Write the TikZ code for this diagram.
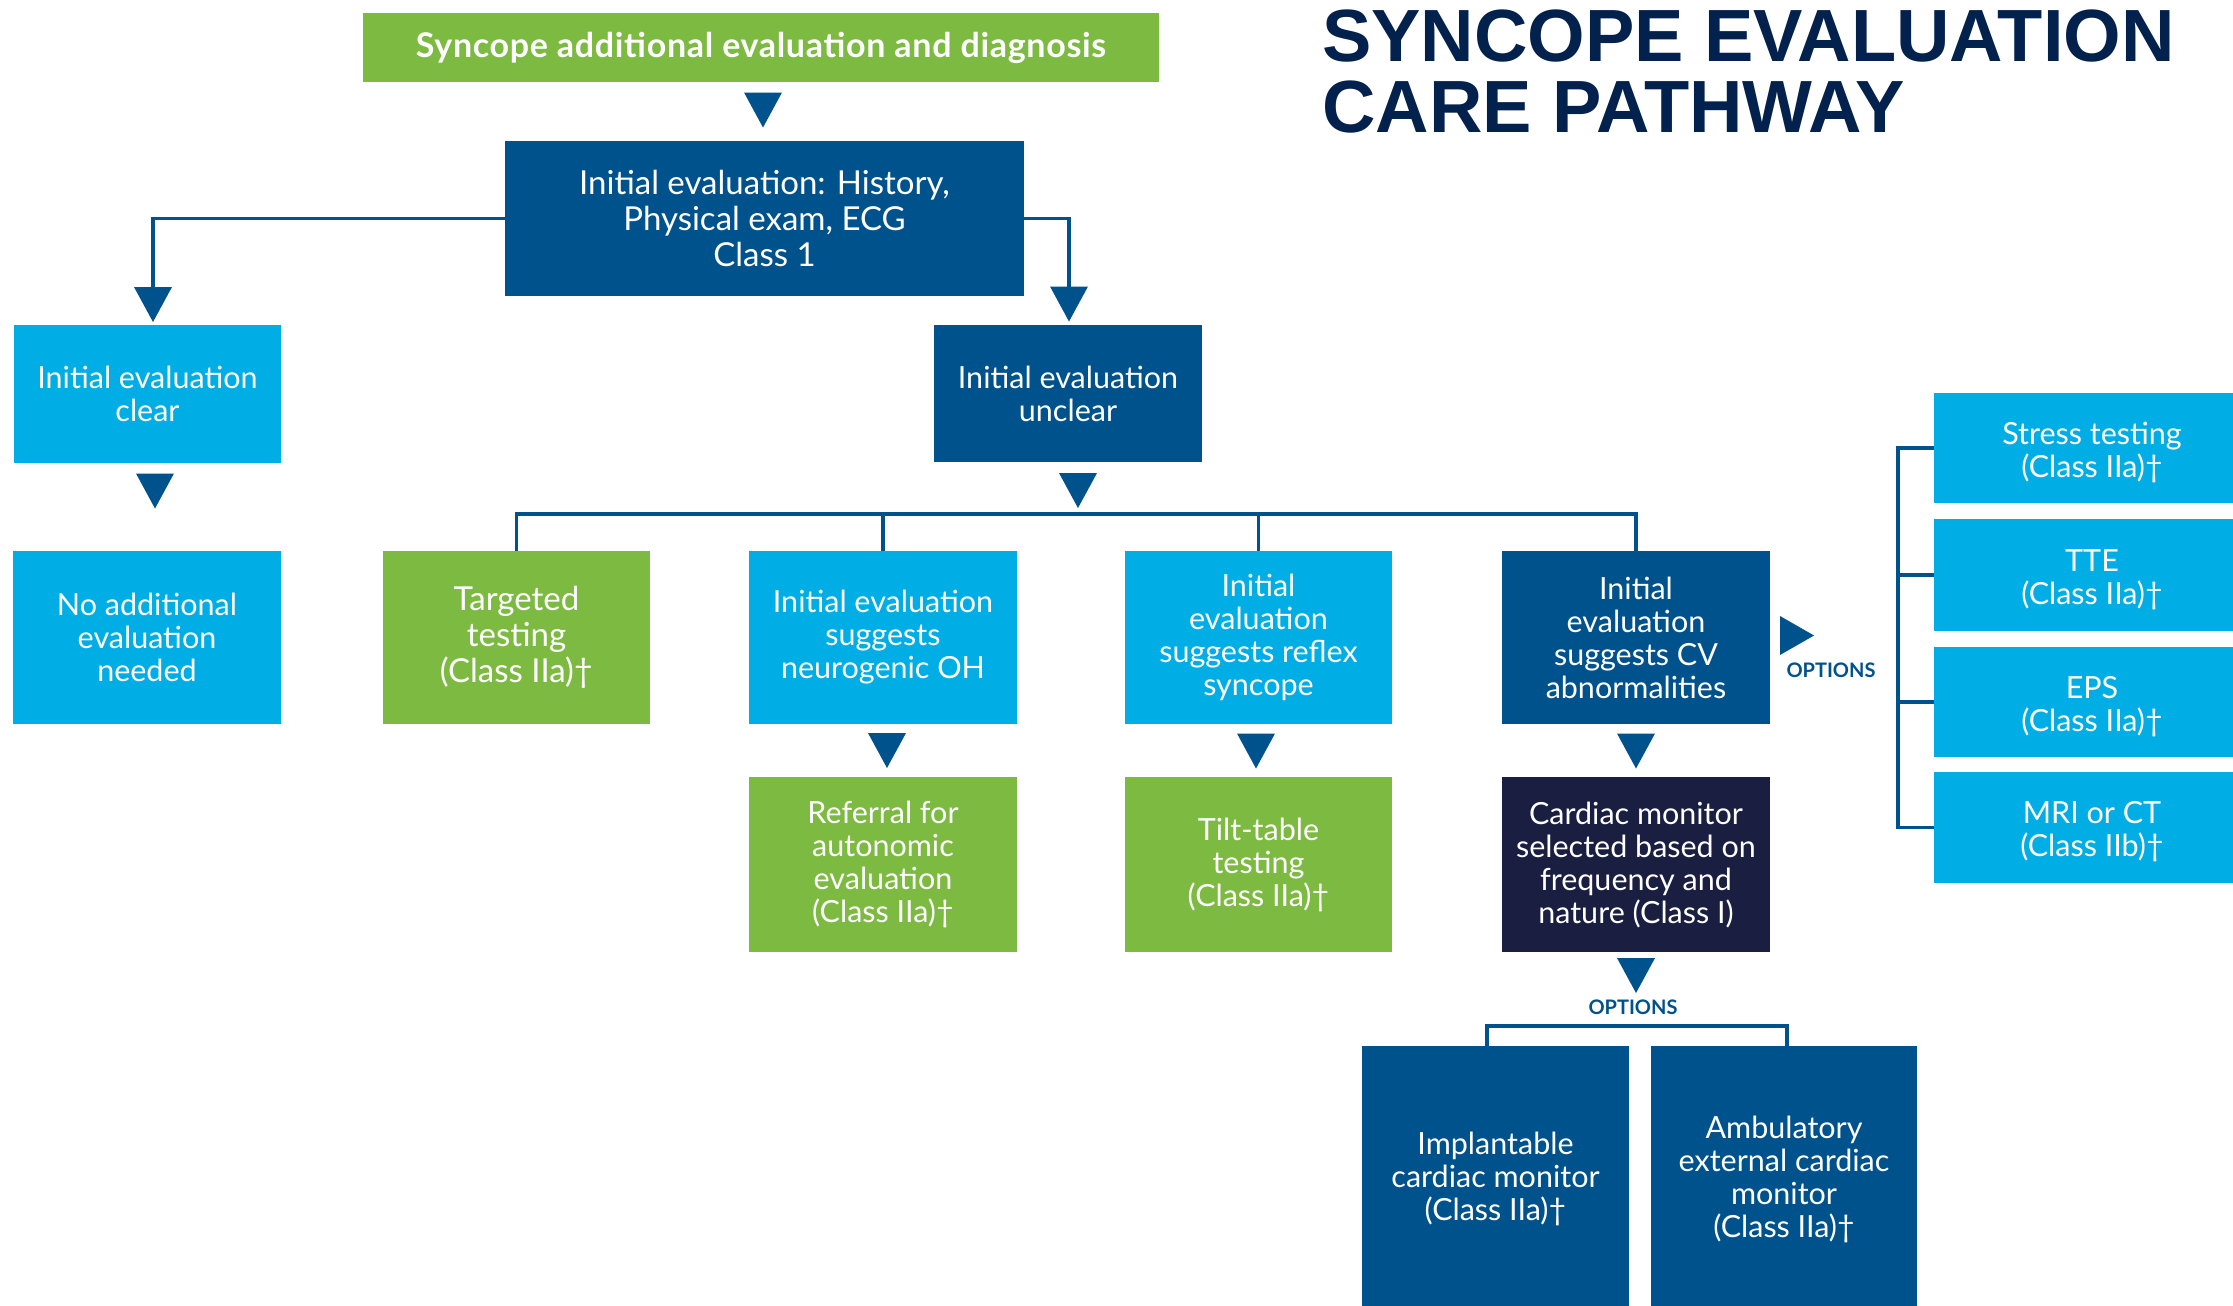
\documentclass[tikz,border=0pt]{standalone}
\usepackage{fontspec}
\setmainfont{Lato}
\newfontfamily\titlefont{Liberation Sans}
\usetikzlibrary{calc}
\definecolor{cgreen}{HTML}{7DBA42}
\definecolor{clight}{HTML}{00AEE5}
\definecolor{cdark}{HTML}{00528C}
\definecolor{cnavy}{HTML}{1A1F42}
\definecolor{ctitle}{HTML}{03214D}
\newcommand{\dropstrut}{\rule{0pt}{31pt}}
\tikzset{
  box/.style={rectangle, inner sep=0pt, align=center, text=white, font=\fontsize{30.5}{33}\selectfont},
  bigtext/.style={font=\fontsize{33}{36}\selectfont},
  sz/.style 2 args={minimum width=#1pt, minimum height=#2pt},
  greenbox/.style={box, fill=cgreen},
  lightbox/.style={box, fill=clight},
  darkbox/.style={box, fill=cdark},
  navybox/.style={box, fill=cnavy},
  conn/.style={draw=cdark, line width=3.5pt},
  downtri/.pic={\fill[cdark] (-19,-17.5) -- (19,-17.5) -- (0,17.5) -- cycle;},
  righttri/.pic={\fill[cdark] (-17,-19.5) -- (-17,19.5) -- (17,0) -- cycle;},
  optlabel/.style={text=cdark, font=\bfseries\fontsize{20}{22}\selectfont, inner sep=0pt},
}
\begin{document}
\begin{tikzpicture}[x=1pt,y=-1pt]
\clip (0,0) rectangle (2233,1306);
\fill[white] (0,0) rectangle (2233,1306);

% title
\node[anchor=north west, inner sep=0pt, align=left, text=ctitle,
      font=\titlefont\bfseries\fontsize{74}{71}\selectfont] (title) at (1322,10)
      {SYNCOPE EVALUATION\\CARE PATHWAY};

% boxes
\node[greenbox, sz={796}{69}, font=\bfseries\fontsize{34}{36}\selectfont\addfontfeatures{LetterSpace=2.0}] (top) at (761,47.5)
  {Syncope additional evaluation and diagnosis};
\node[darkbox, sz={519}{155}, bigtext] (init) at (764.5,218.5)
  {Initial evaluation: History,\\Physical exam, ECG\\Class 1};
\node[lightbox, sz={267}{138}] (clear) at (147.5,394) {Initial evaluation\\clear};
\node[darkbox, sz={268}{137}] (unclear) at (1068,393.5) {Initial evaluation\\unclear};

\node[lightbox, sz={268}{173}] (noadd) at (147,637.5) {No additional\\evaluation\\needed};
\node[greenbox, sz={267}{173}, bigtext] (targeted) at (516.5,637.5) {Targeted\\testing\\(Class IIa)†};
\node[lightbox, sz={268}{173}] (neuro) at (883,637.5) {Initial evaluation\\suggests\\neurogenic OH};
\node[lightbox, sz={267}{173}] (reflex) at (1258.5,637.5) {Initial\\evaluation\\suggests reflex\\syncope};
\node[darkbox, sz={268}{173}] (cv) at (1636,637.5) {Initial\\evaluation\\suggests CV\\abnormalities};

\node[greenbox, sz={268}{175}] (referral) at (883,864.5) {Referral for\\autonomic\\evaluation\\(Class IIa)†};
\node[greenbox, sz={267}{175}] (tilt) at (1258.5,864.5) {Tilt-table\\testing\\(Class IIa)†};
\node[navybox, sz={268}{175}] (cardiac) at (1636,864.5) {Cardiac monitor\\selected based on\\frequency and\\nature (Class I)};

\node[lightbox, sz={316}{110}] (stress) at (2092,448) {\dropstrut Stress testing\\(Class IIa)†};
\node[lightbox, sz={316}{112}] (tte) at (2092,575) {\dropstrut TTE\\(Class IIa)†};
\node[lightbox, sz={316}{110}] (eps) at (2092,702) {\dropstrut EPS\\(Class IIa)†};
\node[lightbox, sz={316}{111}] (mri) at (2092,827.5) {\dropstrut MRI or CT\\(Class IIb)†};

\node[darkbox, sz={267}{266}] (impl) at (1495.5,1179) {Implantable\\cardiac monitor\\(Class IIa)†};
\node[darkbox, sz={266}{266}] (amb) at (1784,1179) {Ambulatory\\external cardiac\\monitor\\(Class IIa)†};

% options labels
\node[optlabel] (opt1) at (1831,670) {OPTIONS};
\node[optlabel] (opt2) at (1633,1007) {OPTIONS};

% arrow-head positions
\coordinate (aTop) at (763,110);
\coordinate (aL) at (153,304.5);
\coordinate (aR) at (1069,304);
\coordinate (aC) at (155,491);
\coordinate (aU) at (1078,490.5);
\coordinate (aN) at (887,750.5);
\coordinate (aRf) at (1256,751);
\coordinate (aCV) at (1636,751);
\coordinate (aRt) at (1797,635.5);
\coordinate (aCard) at (1636,975.5);

% connectors
\draw[conn] (init.west) -| ($(aL)+(0,-16)$);
\draw[conn] (init.east) -| ($(aR)+(0,-16)$);
\draw[conn] (targeted.north) -- ++(0,-37) -| (cv.north);
\draw[conn] (neuro.north) -- ++(0,-37);
\draw[conn] (reflex.north) -- ++(0,-37);
\draw[conn] (stress.west) -- ++(-36,0) |- (mri.west);
\draw[conn] (tte.west) -- ++(-37.75,0);
\draw[conn] (eps.west) -- ++(-37.75,0);
\draw[conn] ($(impl.north)+(-8.5,0)$) -- ++(0,-20) -| ($(amb.north)+(3,0)$);

% triangles
\foreach \c in {aTop,aL,aR,aC,aU,aN,aRf,aCV,aCard} {\pic at (\c) {downtri};}
\pic at (aRt) {righttri};
\end{tikzpicture}
\end{document}
